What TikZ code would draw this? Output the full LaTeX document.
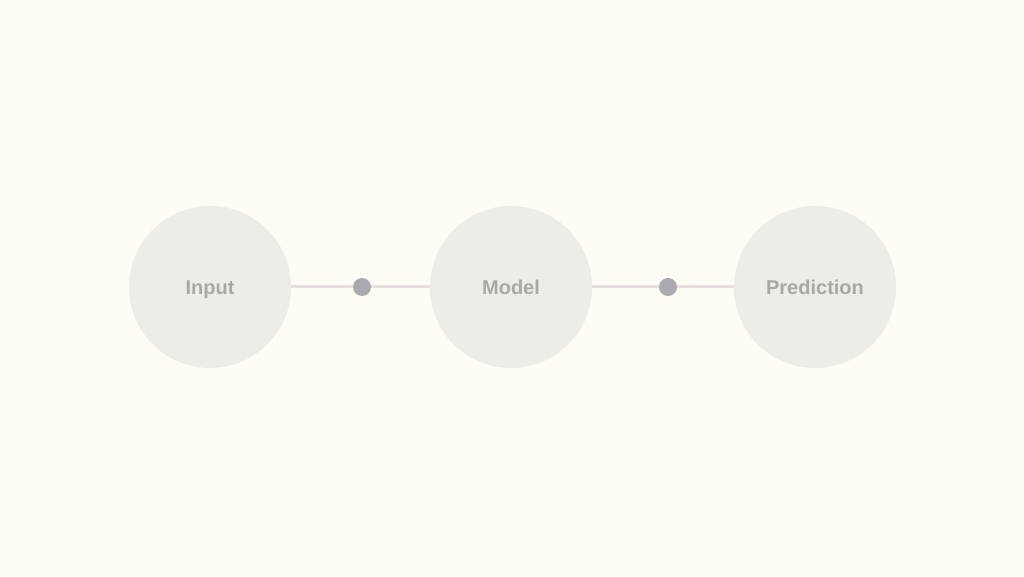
\documentclass[tikz,border=0pt]{standalone}
\usepackage{fontspec}
\setmainfont{Liberation Sans}
\definecolor{bg}{HTML}{FDFDF5}
\definecolor{circfill}{HTML}{EDEDE7}
\definecolor{txt}{HTML}{A8A8A6}
\definecolor{dotc}{HTML}{A9A9AE}
\definecolor{linkc}{HTML}{E6DDDF}
\begin{document}
\begin{tikzpicture}[x=1pt,y=1pt,
  stage/.style={circle,fill=circfill,minimum size=162pt,inner sep=0pt,text=txt,text height=19pt,text depth=4pt,font=\bfseries\fontsize{20}{24}\selectfont},
  hub/.style={circle,fill=dotc,minimum size=18pt,inner sep=0pt},
  link/.style={draw=linkc,line width=3pt}]
\fill[bg] (0,0) rectangle (1024,576);
\useasboundingbox (0,0) rectangle (1024,576);
\node[stage] (a) at (210,289) {Input};
\node[stage] (b) at (511,289) {Model};
\node[stage] (c) at (815,289) {Prediction};
\node[hub] (d1) at (362,289) {};
\node[hub] (d2) at (668,289) {};
\draw[link] (a) -- (d1);
\draw[link] (d1) -- (b);
\draw[link] (b) -- (d2);
\draw[link] (d2) -- (c);
\end{tikzpicture}
\end{document}
